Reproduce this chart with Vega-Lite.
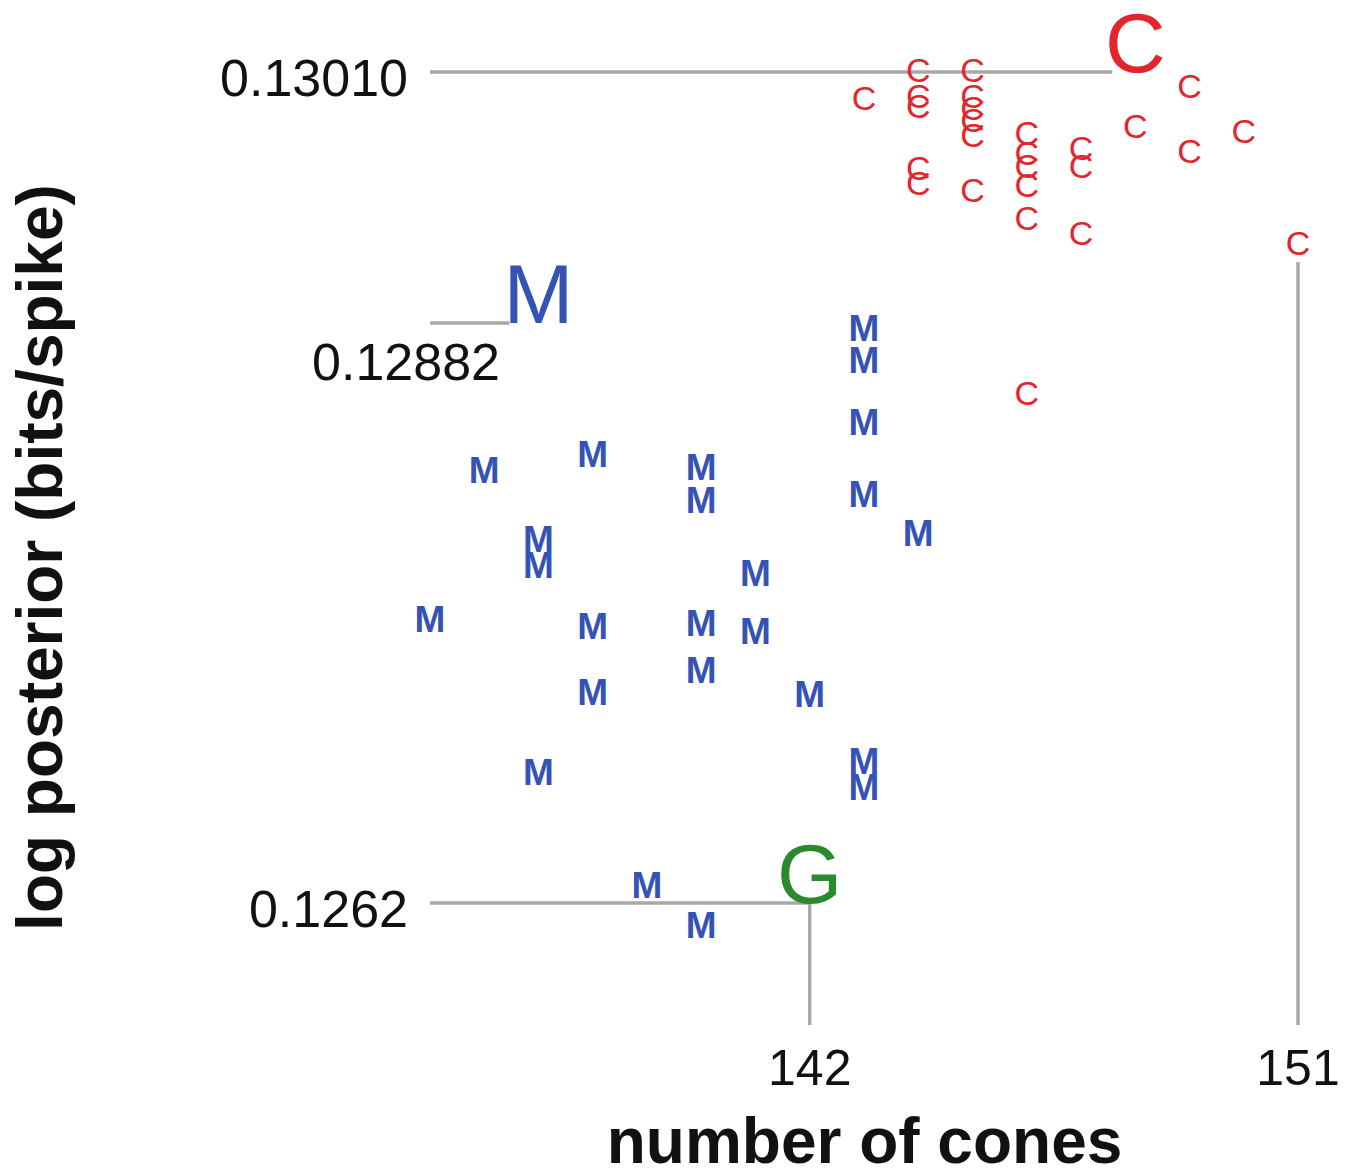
{
  "$schema": "https://vega.github.io/schema/vega-lite/v6.json",
  "width": 868,
  "height": 1025,
  "padding": {"left": 430, "top": 0, "right": 59, "bottom": 147},
  "autosize": {"type": "none"},
  "background": "white",
  "config": {
    "view": {"stroke": null},
    "font": "Liberation Sans",
    "text": {"font": "Liberation Sans"},
    "axis": {
      "labels": false, "ticks": false, "domain": false, "grid": false,
      "titleFont": "Liberation Sans", "titleFontSize": 64, "titleFontWeight": "bold",
      "titleColor": "#111111", "titleAlign": "center", "titleBaseline": "alphabetic"
    },
    "axisX": {"titleX": 434, "titleY": 137},
    "axisY": {"titleX": -369, "titleY": 557, "titleAngle": 270}
  },
  "datasets": {
    "points": [
      {"model": "C", "size": "big", "cones": 148, "logpost": 0.1301},
      {"model": "M", "size": "big", "cones": 137, "logpost": 0.12882},
      {"model": "G", "size": "big", "cones": 142, "logpost": 0.1258622},
      {"model": "C", "size": "small", "cones": 143, "logpost": 0.1299572},
      {"model": "C", "size": "small", "cones": 144, "logpost": 0.1301},
      {"model": "C", "size": "small", "cones": 144, "logpost": 0.1299674},
      {"model": "C", "size": "small", "cones": 144, "logpost": 0.1299164},
      {"model": "C", "size": "small", "cones": 144, "logpost": 0.1296003},
      {"model": "C", "size": "small", "cones": 144, "logpost": 0.1295238},
      {"model": "C", "size": "small", "cones": 145, "logpost": 0.1301},
      {"model": "C", "size": "small", "cones": 145, "logpost": 0.1299674},
      {"model": "C", "size": "small", "cones": 145, "logpost": 0.1299062},
      {"model": "C", "size": "small", "cones": 145, "logpost": 0.129845},
      {"model": "C", "size": "small", "cones": 145, "logpost": 0.1297686},
      {"model": "C", "size": "small", "cones": 145, "logpost": 0.1294881},
      {"model": "C", "size": "small", "cones": 146, "logpost": 0.1297788},
      {"model": "C", "size": "small", "cones": 146, "logpost": 0.1296768},
      {"model": "C", "size": "small", "cones": 146, "logpost": 0.1296105},
      {"model": "C", "size": "small", "cones": 146, "logpost": 0.1295136},
      {"model": "C", "size": "small", "cones": 146, "logpost": 0.1293453},
      {"model": "C", "size": "small", "cones": 146, "logpost": 0.1284529},
      {"model": "C", "size": "small", "cones": 147, "logpost": 0.1297023},
      {"model": "C", "size": "small", "cones": 147, "logpost": 0.1296105},
      {"model": "C", "size": "small", "cones": 147, "logpost": 0.1292688},
      {"model": "C", "size": "small", "cones": 148, "logpost": 0.1298145},
      {"model": "C", "size": "small", "cones": 149, "logpost": 0.1300184},
      {"model": "C", "size": "small", "cones": 149, "logpost": 0.129687},
      {"model": "C", "size": "small", "cones": 150, "logpost": 0.129789},
      {"model": "C", "size": "small", "cones": 151, "logpost": 0.1292178},
      {"model": "M", "size": "small", "cones": 135, "logpost": 0.1273003},
      {"model": "M", "size": "small", "cones": 136, "logpost": 0.1280602},
      {"model": "M", "size": "small", "cones": 137, "logpost": 0.1277083},
      {"model": "M", "size": "small", "cones": 137, "logpost": 0.1275757},
      {"model": "M", "size": "small", "cones": 137, "logpost": 0.1265201},
      {"model": "M", "size": "small", "cones": 138, "logpost": 0.1281418},
      {"model": "M", "size": "small", "cones": 138, "logpost": 0.1272647},
      {"model": "M", "size": "small", "cones": 138, "logpost": 0.1269281},
      {"model": "M", "size": "small", "cones": 139, "logpost": 0.1259439},
      {"model": "M", "size": "small", "cones": 140, "logpost": 0.1280755},
      {"model": "M", "size": "small", "cones": 140, "logpost": 0.1279072},
      {"model": "M", "size": "small", "cones": 140, "logpost": 0.1272799},
      {"model": "M", "size": "small", "cones": 140, "logpost": 0.1270403},
      {"model": "M", "size": "small", "cones": 140, "logpost": 0.1257399},
      {"model": "M", "size": "small", "cones": 141, "logpost": 0.1275349},
      {"model": "M", "size": "small", "cones": 141, "logpost": 0.1272392},
      {"model": "M", "size": "small", "cones": 142, "logpost": 0.1269179},
      {"model": "M", "size": "small", "cones": 143, "logpost": 0.1287843},
      {"model": "M", "size": "small", "cones": 143, "logpost": 0.1286211},
      {"model": "M", "size": "small", "cones": 143, "logpost": 0.128305},
      {"model": "M", "size": "small", "cones": 143, "logpost": 0.1279378},
      {"model": "M", "size": "small", "cones": 143, "logpost": 0.1265762},
      {"model": "M", "size": "small", "cones": 143, "logpost": 0.1264436},
      {"model": "M", "size": "small", "cones": 144, "logpost": 0.1277389}
    ],
    "rules": [
      {"id": "plain", "cones": 135, "cones2": 142, "logpost": 0.1258622, "logpost2": 0.1258622},
      {"id": "plain", "cones": 142, "cones2": 142, "logpost": 0.1252401, "logpost2": 0.1258622},
      {"id": "toC", "cones": 135, "cones2": 148, "logpost": 0.1301, "logpost2": 0.1301},
      {"id": "toM", "cones": 135, "cones2": 137, "logpost": 0.12882, "logpost2": 0.12882},
      {"id": "to151", "cones": 151, "cones2": 151, "logpost": 0.1252401, "logpost2": 0.1292178}
    ],
    "ylabels": [
      {"logpost": 0.1301, "label": "0.13010"},
      {"logpost": 0.1258622, "label": "0.1262"}
    ],
    "xlabels": [
      {"cones": 142, "label": "142"},
      {"cones": 151, "label": "151"}
    ]
  },
  "layer": [
    {
      "data": {"name": "rules"},
      "transform": [{"filter": "datum.id == 'plain'"}],
      "mark": {"type": "rule", "color": "#a8a8a8", "strokeWidth": 3.5},
      "encoding": {
        "x": {"field": "cones", "type": "quantitative", "scale": {"domain": [135, 151], "nice": false, "zero": false}, "title": "number of cones"},
        "x2": {"field": "cones2"},
        "y": {"field": "logpost", "type": "quantitative", "scale": {"domain": [0.1252401, 0.1304672], "nice": false, "zero": false}, "title": "log posterior (bits/spike)"},
        "y2": {"field": "logpost2"}
      }
    },
    {
      "data": {"name": "rules"},
      "transform": [{"filter": "datum.id == 'toC'"}],
      "mark": {"type": "rule", "color": "#a8a8a8", "strokeWidth": 3.5, "x2Offset": -23},
      "encoding": {
        "x": {"field": "cones", "type": "quantitative", "title": "number of cones"},
        "x2": {"field": "cones2"},
        "y": {"field": "logpost", "type": "quantitative", "title": "log posterior (bits/spike)"},
        "y2": {"field": "logpost2"}
      }
    },
    {
      "data": {"name": "rules"},
      "transform": [{"filter": "datum.id == 'toM'"}],
      "mark": {"type": "rule", "color": "#a8a8a8", "strokeWidth": 3.5, "x2Offset": -29},
      "encoding": {
        "x": {"field": "cones", "type": "quantitative", "title": "number of cones"},
        "x2": {"field": "cones2"},
        "y": {"field": "logpost", "type": "quantitative", "title": "log posterior (bits/spike)"},
        "y2": {"field": "logpost2"}
      }
    },
    {
      "data": {"name": "rules"},
      "transform": [{"filter": "datum.id == 'to151'"}],
      "mark": {"type": "rule", "color": "#a8a8a8", "strokeWidth": 3.5, "y2Offset": 17},
      "encoding": {
        "x": {"field": "cones", "type": "quantitative", "title": "number of cones"},
        "x2": {"field": "cones2"},
        "y": {"field": "logpost", "type": "quantitative", "title": "log posterior (bits/spike)"},
        "y2": {"field": "logpost2"}
      }
    },
    {
      "data": {"name": "points"},
      "transform": [{"filter": "datum.size == 'small' && datum.model == 'C'"}],
      "mark": {"type": "text", "fontSize": 34, "align": "center", "baseline": "middle"},
      "encoding": {
        "x": {"field": "cones", "type": "quantitative", "title": "number of cones"},
        "y": {"field": "logpost", "type": "quantitative", "title": "log posterior (bits/spike)"},
        "text": {"field": "model"},
        "color": {"field": "model", "type": "nominal", "scale": {"domain": ["C", "M", "G"], "range": ["#e3262e", "#3553b5", "#2b8a2e"]}, "legend": null}
      }
    },
    {
      "data": {"name": "points"},
      "transform": [{"filter": "datum.size == 'small' && datum.model == 'M'"}],
      "mark": {"type": "text", "fontSize": 37, "fontWeight": "bold", "align": "center", "baseline": "middle"},
      "encoding": {
        "x": {"field": "cones", "type": "quantitative", "title": "number of cones"},
        "y": {"field": "logpost", "type": "quantitative", "title": "log posterior (bits/spike)"},
        "text": {"field": "model"},
        "color": {"field": "model", "type": "nominal", "legend": null}
      }
    },
    {
      "data": {"name": "points"},
      "transform": [{"filter": "datum.size == 'big'"}],
      "mark": {"type": "text", "fontSize": 84, "align": "center", "baseline": "alphabetic"},
      "encoding": {
        "x": {"field": "cones", "type": "quantitative", "title": "number of cones"},
        "y": {"field": "logpost", "type": "quantitative", "title": "log posterior (bits/spike)"},
        "text": {"field": "model"},
        "color": {"field": "model", "type": "nominal", "legend": null}
      }
    },
    {
      "data": {"name": "ylabels"},
      "mark": {"type": "text", "fontSize": 52, "align": "right", "baseline": "middle", "dx": -22, "dy": 8, "color": "#111111"},
      "encoding": {
        "x": {"datum": 135, "type": "quantitative"},
        "y": {"field": "logpost", "type": "quantitative", "title": "log posterior (bits/spike)"},
        "text": {"field": "label"}
      }
    },
    {
      "data": {"values": [{"logpost": 0.12882, "label": "0.12882"}]},
      "mark": {"type": "text", "fontSize": 52, "align": "right", "baseline": "middle", "dx": 70, "dy": 41, "color": "#111111"},
      "encoding": {
        "x": {"datum": 135, "type": "quantitative"},
        "y": {"field": "logpost", "type": "quantitative", "title": "log posterior (bits/spike)"},
        "text": {"field": "label"}
      }
    },
    {
      "data": {"name": "xlabels"},
      "mark": {"type": "text", "fontSize": 50, "align": "center", "baseline": "middle", "dy": 45, "color": "#111111"},
      "encoding": {
        "x": {"field": "cones", "type": "quantitative", "title": "number of cones"},
        "y": {"datum": 0.1252401, "type": "quantitative"},
        "text": {"field": "label"}
      }
    }
  ]
}
